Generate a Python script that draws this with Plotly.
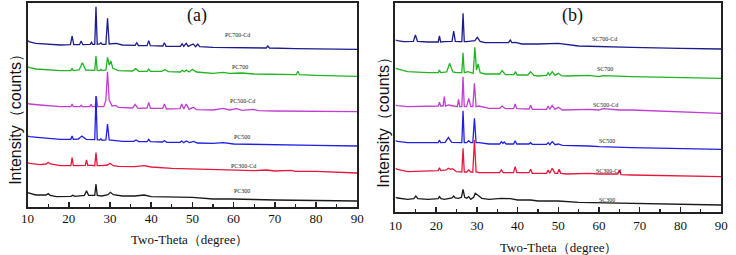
import plotly.graph_objects as go

# ---------------- Panel (a) data (arbitrary intensity units, offsets as plotted) ----------------
pc700cd_x = [10, 10.5, 12, 15, 18, 20.4, 20.8, 21.2, 22.6, 23.0, 23.4, 25.2, 25.5, 25.8, 26.3, 26.6, 26.9, 27.5, 27.8, 28.1, 29.0, 29.4, 29.8, 31.5, 33, 36.1, 36.5, 36.9, 39.0, 39.4, 39.8, 42.8, 43.2, 43.6, 47.1, 47.5, 47.9, 48.5, 49.0, 50.2, 50.8, 51.3, 51.8, 55, 60, 67.9, 68.3, 68.7, 75, 80, 90]
pc700cd_y = [499, 495, 491, 488, 486, 487, 513, 487, 487, 498, 487, 488, 494, 488, 488, 601, 488, 489, 493, 488, 488, 566, 489, 491, 486, 485, 493, 484, 484, 499, 484, 483, 493, 482, 482, 490, 482, 491, 482, 489, 481, 489, 481, 479, 478, 477, 483, 477, 475, 475, 473]

pc700_x = [10, 10.5, 12, 15, 18, 20.5, 20.8, 21.1, 22.5, 23.3, 24.1, 26.3, 26.6, 26.9, 27.5, 27.8, 28.1, 29.0, 29.4, 29.8, 30.2, 30.7, 32, 35.5, 36.2, 37, 39.0, 39.4, 39.8, 42.5, 43.3, 44.2, 47.1, 47.5, 48.0, 48.5, 49.2, 50, 51, 55, 57.5, 59, 62, 65, 75.2, 75.6, 76, 80, 90]
pc700_y = [421, 418, 414, 411, 409, 409, 416, 409, 411, 433, 411, 410, 453, 410, 409, 413, 409, 411, 449, 426, 438, 416, 409, 408, 415, 407, 407, 414, 407, 407, 412, 406, 405, 410, 406, 411, 405, 413, 405, 401, 404, 401, 402, 399, 397, 407, 397, 395, 392]

pc500cd_x = [10, 10.5, 13, 18, 20.5, 20.8, 21.1, 22.7, 23.0, 23.3, 25.1, 25.4, 25.7, 26.4, 26.7, 27.0, 28.5, 29.0, 29.4, 29.8, 30.5, 31.3, 32, 35.5, 36.1, 36.8, 39.0, 39.4, 39.8, 42.8, 43.2, 43.7, 47.0, 47.4, 47.9, 48.5, 49.2, 50.2, 51, 55, 57.5, 59, 60.8, 62, 64.8, 66, 70, 80, 90]
pc500cd_y = [311, 309, 306, 301, 301, 309, 301, 301, 305, 301, 301, 308, 301, 301, 331, 301, 301, 321, 406, 321, 303, 305, 299, 297, 308, 296, 297, 314, 296, 296, 309, 294, 295, 309, 294, 309, 293, 299, 292, 291, 296, 291, 295, 290, 293, 289, 288, 287, 286]

pc500_x = [10, 10.5, 13, 18, 20.5, 20.8, 21.1, 22.3, 23.2, 24.2, 26.3, 26.6, 26.9, 27.5, 27.8, 28.1, 29.0, 29.4, 29.8, 31, 33, 35.8, 36.3, 37, 39.0, 39.4, 39.8, 42.7, 43.2, 43.8, 47.0, 47.4, 47.9, 48.5, 49.3, 50.3, 51.2, 55, 57.5, 60, 68, 75, 80, 90]
pc500_y = [213, 211, 208, 203, 203, 213, 203, 204, 213, 203, 202, 333, 202, 201, 205, 200, 201, 249, 201, 199, 197, 197, 201, 196, 196, 203, 196, 195, 199, 194, 194, 198, 193, 198, 193, 197, 192, 191, 193, 189, 188, 186, 185, 183]

pc300cd_x = [10, 10.5, 13, 14.5, 15, 15.5, 18, 20.5, 20.8, 21.1, 22, 24.0, 24.3, 24.6, 25.5, 26.3, 26.6, 26.9, 28, 29.4, 30, 30.8, 32, 36, 38.3, 40, 45, 50, 55, 60, 65, 68, 70, 74, 75, 80, 85, 90]
pc300cd_y = [133, 131, 127, 129, 134, 129, 124, 124, 148, 124, 124, 125, 141, 125, 125, 124, 163, 124, 124, 126, 131, 124, 122, 121, 124, 120, 116, 114, 112, 110, 109, 111, 108, 110, 107, 107, 105, 102]

pc300_x = [10, 10.5, 12, 14.5, 15, 15.5, 17, 20.5, 21, 21.5, 23.8, 24.3, 24.8, 26.3, 26.6, 26.9, 28, 29.5, 30.1, 30.8, 33, 36, 38.3, 40, 45, 50, 55, 60, 70, 80, 90]
pc300_y = [43, 41, 36, 36, 40, 35, 31, 32, 35, 32, 35, 49, 35, 35, 69, 35, 33, 37, 44, 37, 33, 33, 36, 31, 29, 29, 24, 24, 21, 20, 18]

# ---------------- Panel (b) data ----------------
sc700cd_x = [10, 10.5, 12, 14.4, 14.9, 15.4, 18, 20.5, 20.8, 21.1, 22, 23.9, 24.3, 24.7, 25.5, 26.3, 26.6, 26.9, 27.5, 29.5, 30.1, 30.8, 32, 36, 37.8, 38.2, 38.6, 39.5, 41, 45, 50, 55, 60, 68, 80, 90]
sc700cd_y = [516, 514, 511, 512, 531, 512, 510, 510, 528, 510, 511, 512, 543, 512, 511, 511, 596, 511, 511, 514, 524, 512, 508, 508, 508, 516, 508, 509, 504, 504, 506, 498, 496, 494, 491, 489]

sc700_x = [10, 10.5, 13, 18, 20.5, 20.8, 21.1, 22.6, 23.3, 24.1, 25, 26.3, 26.6, 26.9, 27.8, 29.1, 29.5, 29.9, 30.3, 30.8, 32, 35.6, 36.2, 37, 38, 39.1, 39.5, 39.9, 41, 42.5, 43.2, 44, 45, 47.1, 47.5, 47.9, 48.5, 49.2, 50, 50.8, 52, 57.5, 60, 61, 68, 80, 90]
sc700_y = [431, 429, 421, 418, 418, 426, 418, 420, 446, 420, 418, 418, 478, 418, 421, 416, 494, 426, 444, 418, 414, 414, 424, 412, 411, 412, 421, 411, 411, 411, 421, 410, 408, 410, 418, 410, 421, 410, 416, 409, 408, 410, 406, 409, 406, 404, 401]

sc500cd_x = [10, 10.5, 13, 19.5, 20.5, 20.8, 21.1, 21.7, 22.0, 22.3, 23, 25.2, 25.5, 25.8, 26.3, 26.6, 26.9, 27.5, 28.0, 28.5, 29.0, 29.4, 29.8, 30.5, 33, 35.6, 36.2, 37, 39.0, 39.4, 39.8, 42.8, 43.2, 43.6, 47.1, 47.5, 47.9, 48.5, 49.2, 50, 51, 57.5, 60, 61, 65, 68, 80, 90]
sc500cd_y = [321, 319, 316, 318, 318, 329, 318, 318, 346, 318, 321, 316, 338, 316, 316, 406, 316, 316, 341, 316, 316, 386, 316, 318, 311, 311, 318, 310, 310, 324, 310, 309, 320, 308, 308, 318, 308, 320, 308, 314, 306, 308, 306, 310, 306, 306, 301, 296]

sc500_x = [10, 10.5, 13, 20.5, 20.8, 21.1, 22.2, 23, 23.8, 25, 26.3, 26.6, 26.9, 27.5, 28, 28.5, 29.0, 29.4, 29.8, 30.5, 33, 35.6, 36, 36.4, 36.7, 37.2, 39.0, 39.4, 39.8, 42.8, 43.2, 43.6, 47.1, 47.5, 47.9, 48.5, 49.2, 50, 51, 57.5, 60, 68, 80, 90]
sc500_y = [214, 212, 208, 208, 216, 208, 209, 224, 209, 208, 208, 304, 208, 208, 214, 208, 208, 281, 208, 208, 204, 204, 211, 206, 210, 204, 204, 214, 204, 204, 208, 203, 203, 208, 202, 211, 202, 204, 200, 198, 196, 193, 191, 188]

sc300cd_x = [10, 10.5, 13, 20, 20.5, 20.8, 21.1, 22.5, 23, 23.5, 24, 25, 26.3, 26.6, 26.9, 27.5, 28, 28.5, 29.0, 29.4, 29.8, 30.5, 33, 35.6, 36, 36.5, 39.0, 39.4, 39.8, 42.8, 43.2, 43.6, 47.1, 47.5, 47.9, 48.5, 49.2, 49.8, 50.2, 50.6, 52, 57.5, 60, 64.6, 65, 65.4, 68, 80, 90]
sc300cd_y = [131, 128, 121, 124, 124, 133, 124, 126, 131, 128, 130, 121, 120, 191, 120, 120, 126, 120, 120, 216, 120, 118, 118, 118, 126, 118, 118, 136, 118, 118, 128, 116, 116, 126, 116, 131, 116, 116, 128, 116, 114, 116, 114, 114, 126, 112, 111, 108, 106]

sc300_x = [10, 10.5, 13, 14.5, 15, 15.5, 18, 20.5, 20.8, 21.2, 22, 23.9, 24.3, 24.7, 25.5, 26.2, 26.6, 27.0, 27.5, 28, 28.5, 29.2, 29.6, 30.1, 30.5, 31.2, 33, 36, 38.2, 40, 43.2, 45, 50, 55, 60, 70, 80, 90]
sc300_y = [44, 42, 38, 40, 48, 40, 38, 40, 46, 40, 38, 42, 48, 42, 41, 44, 68, 44, 41, 46, 38, 44, 56, 50, 48, 41, 38, 41, 40, 36, 36, 33, 33, 29, 28, 26, 24, 21]

# labels and their anchor points (data coords)
labels_a = ["PC700-Cd", "PC700", "PC500-Cd", "PC500", "PC300-Cd", "PC300"]
labels_b = ["SC700-Cd", "SC700", "SC500-Cd", "SC500", "SC300-Cd", "SC300"]
lab_a_x = [60.9, 61.5, 62.1, 62.0, 62.3, 62.0]
lab_a_y = [517, 421, 318, 211, 124, 48]
lab_b_x = [61.4, 61.4, 61.7, 62.0, 62.3, 62.0]
lab_b_y = [518, 428, 321, 213, 123, 36]

colors = ["#1c1c8c", "#20b420", "#c23ed2", "#2020e4", "#e8183c", "#1a1a1a"]

series_a = [(pc700cd_x, pc700cd_y), (pc700_x, pc700_y), (pc500cd_x, pc500cd_y),
            (pc500_x, pc500_y), (pc300cd_x, pc300cd_y), (pc300_x, pc300_y)]
series_b = [(sc700cd_x, sc700cd_y), (sc700_x, sc700_y), (sc500cd_x, sc500cd_y),
            (sc500_x, sc500_y), (sc300cd_x, sc300cd_y), (sc300_x, sc300_y)]

fig = go.Figure()
for (xs, ys), c, n in zip(series_a, colors, labels_a):
    fig.add_trace(go.Scatter(x=xs, y=ys, mode="lines", name=n,
                             line=dict(color=c, width=1.3), xaxis="x", yaxis="y"))
for (xs, ys), c, n in zip(series_b, colors, labels_b):
    fig.add_trace(go.Scatter(x=xs, y=ys, mode="lines", name=n,
                             line=dict(color=c, width=1.3), xaxis="x2", yaxis="y2"))

W, H = 736, 255
frame = "#222222"
tickfont = dict(family="Liberation Serif", size=13, color="#111")

def xaxis(dom, anchor, standoff):
    return dict(domain=dom, anchor=anchor, range=[10, 90], dtick=10, tick0=10,
                ticks="inside", ticklen=5, tickwidth=1.5, tickcolor=frame,
                minor=dict(dtick=5, ticks="inside", ticklen=3, tickwidth=1.2, tickcolor=frame),
                showline=True, linecolor=frame, linewidth=2, mirror=True,
                ticklabelstandoff=standoff,
                showgrid=False, zeroline=False, tickfont=tickfont, fixedrange=True)

def yaxis(dom, anchor, rng):
    return dict(domain=dom, anchor=anchor, range=rng, showticklabels=False, ticks="",
                showline=True, linecolor=frame, linewidth=2, mirror=True,
                showgrid=False, zeroline=False, fixedrange=True)

fig.update_layout(
    width=W, height=H, margin=dict(l=0, r=0, t=0, b=0),
    paper_bgcolor="white", plot_bgcolor="white", showlegend=False,
    xaxis=xaxis([21 / W, 357 / W], "y", -2),
    yaxis=yaxis([48 / H, 252 / H], "x", [0, 612]),
    xaxis2=xaxis([396 / W, 728 / W], "y2", 0),
    yaxis2=yaxis([43 / H, 252 / H], "x2", [0, 627]),
)

ann = []
for t, x, y in zip(labels_a, lab_a_x, lab_a_y):
    ann.append(dict(text=t, x=x, y=y, xref="x", yref="y", showarrow=False,
                    font=dict(family="Liberation Serif", size=6, color="#222")))
for t, x, y in zip(labels_b, lab_b_x, lab_b_y):
    ann.append(dict(text=t, x=x, y=y, xref="x2", yref="y2", showarrow=False,
                    font=dict(family="Liberation Serif", size=6, color="#222")))
ann.append(dict(text="(a)", x=51, y=575, xref="x", yref="y", showarrow=False,
                font=dict(family="Liberation Serif", size=18, color="#111")))
ann.append(dict(text="(b)", x=53.5, y=588, xref="x2", yref="y2", showarrow=False,
                font=dict(family="Liberation Serif", size=18, color="#111")))
ann.append(dict(text="Two-Theta（degree）", x=186 / W, y=1 - 239 / H, xref="paper", yref="paper",
                xanchor="center", yanchor="middle", showarrow=False,
                font=dict(family="Liberation Serif", size=13, color="#111")))
ann.append(dict(text="Two-Theta（degree）", x=562 / W, y=1 - 247 / H, xref="paper", yref="paper",
                xanchor="center", yanchor="middle", showarrow=False,
                font=dict(family="Liberation Serif", size=13, color="#111")))
ann.append(dict(text="Intensity（counts）", x=9 / W, y=1 - 115 / H, xref="paper", yref="paper",
                xanchor="center", yanchor="middle", textangle=-90, showarrow=False,
                font=dict(family="Liberation Sans", size=16, color="#111")))
ann.append(dict(text="Intensity（counts）", x=383 / W, y=1 - 118 / H, xref="paper", yref="paper",
                xanchor="center", yanchor="middle", textangle=-90, showarrow=False,
                font=dict(family="Liberation Sans", size=16, color="#111")))
fig.update_layout(annotations=ann)

fig.write_html("out.html",
               config={"responsive": False, "displayModeBar": False, "staticPlot": True},
               post_script="document.body.style.margin='0px';")
